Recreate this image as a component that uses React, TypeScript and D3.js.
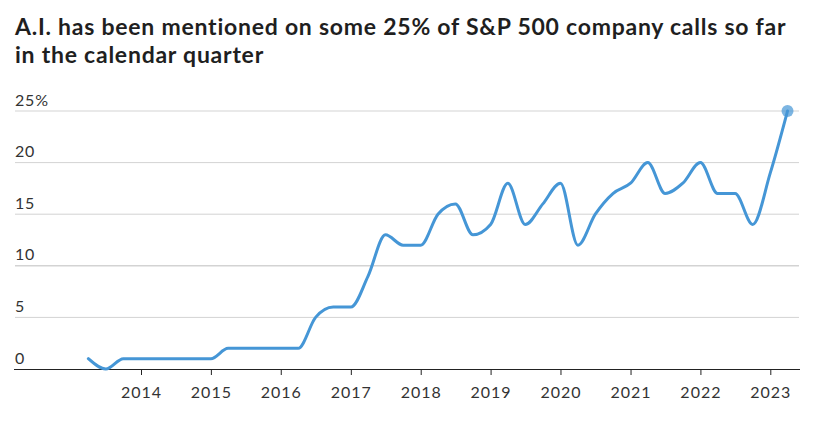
import * as d3 from 'd3';
import { useEffect, useRef } from 'react';

// quarterly share of S&P 500 calls mentioning A.I., 2013 Q2 .. 2023 Q2
const startYear = 2013;
const startQuarter = 2;
const shares = [
  1, 0, 1,
  1, 1, 1, 1,
  1, 2, 2, 2,
  2, 2, 5, 6,
  6, 9, 13, 12,
  12, 15, 16, 13,
  14, 18, 14, 16,
  18, 12, 15, 17,
  18, 20, 17, 18,
  20, 17, 17, 14,
  19, 25,
];
const yTicks = [0, 5, 10, 15, 20, 25];
const xTickYears = [2014, 2015, 2016, 2017, 2018, 2019, 2020, 2021, 2022, 2023];
const titleLines = [
  'A.I. has been mentioned on some 25% of S&P 500 company calls so far',
  'in the calendar quarter',
];

const W = 814;
const H = 422;

export default function App() {
  const svgRef = useRef<SVGSVGElement | null>(null);

  useEffect(() => {
    if (!svgRef.current) return;
    const svg = d3.select(svgRef.current);
    svg.selectAll('*').remove();

    const data = shares.map((v, i) => {
      const q = startQuarter - 1 + i;
      return { date: new Date(startYear + Math.floor(q / 4), (q % 4) * 3, 1), value: v };
    });

    const left = 15;
    const right = 799;
    const top = 111;
    const bottom = 369;

    const x = d3
      .scaleTime()
      .domain([new Date(2014, 0, 1), new Date(2023, 0, 1)])
      .range([141, 770.3]);
    const y = d3.scaleLinear().domain([0, 25]).range([bottom, top]);

    const font = 'Lato, "Open Sans", sans-serif';

    // title, letter-spaced so the first line spans the same width as the original
    const title = svg
      .append('g')
      .selectAll('text')
      .data(titleLines)
      .enter()
      .append('text')
      .attr('x', 15)
      .attr('y', (d, i) => 35 + i * 28)
      .attr('font-family', font)
      .attr('font-weight', 700)
      .attr('font-size', '23px')
      .attr('fill', '#1f1f1f')
      .text((d) => d);
    const first = title.nodes()[0] as SVGTextElement;
    const w0 = first.getComputedTextLength();
    const spacing = Math.max(0, (771 - w0) / (titleLines[0].length - 1));
    title.attr('letter-spacing', `${spacing}px`);

    // gridlines + y labels
    const grid = svg.append('g');
    grid
      .selectAll('line')
      .data(yTicks.filter((t) => t > 0))
      .enter()
      .append('line')
      .attr('x1', left)
      .attr('x2', right)
      .attr('y1', (d) => y(d))
      .attr('y2', (d) => y(d))
      .attr('stroke', '#d3d3d3')
      .attr('stroke-width', (d) => (d === 10 ? 1.5 : 1));
    grid
      .selectAll('text')
      .data(yTicks)
      .enter()
      .append('text')
      .attr('x', left)
      .attr('y', (d) => y(d) - 5.5)
      .attr('font-family', font)
      .attr('font-size', '16px')
      .attr('letter-spacing', '0.8px')
      .attr('fill', '#333')
      .text((d) => (d === 25 ? '25%' : String(d)));

    // x axis
    const xAxis = d3
      .axisBottom(x)
      .tickValues(xTickYears.map((yr) => new Date(yr, 0, 1)))
      .tickFormat((d) => String((d as Date).getFullYear()))
      .tickSizeInner(6)
      .tickSizeOuter(0);
    const ax = svg.append('g').attr('transform', `translate(0,${bottom})`).call(xAxis);
    ax.select('.domain').attr('d', `M${left - 1},0.5H${right + 1}`).attr('stroke', '#222');
    ax.selectAll('.tick line').attr('stroke', '#222');
    ax.selectAll('.tick text')
      .attr('y', 29)
      .attr('dy', null)
      .attr('font-family', font)
      .attr('font-size', '16px')
      .attr('letter-spacing', '1px')
      .attr('fill', '#333');

    // line
    const line = d3
      .line<{ date: Date; value: number }>()
      .x((d) => x(d.date))
      .y((d) => y(d.value))
      .curve(d3.curveMonotoneX);
    svg
      .append('path')
      .datum(data)
      .attr('d', line)
      .attr('fill', 'none')
      .attr('stroke', '#4596d6')
      .attr('stroke-width', 3)
      .attr('stroke-linejoin', 'round')
      .attr('stroke-linecap', 'round');

    const last = data[data.length - 1];
    svg
      .append('circle')
      .attr('cx', x(last.date))
      .attr('cy', y(last.value))
      .attr('r', 6)
      .attr('fill', '#4596d6')
      .attr('fill-opacity', 0.7);
  }, []);

  return (
    <svg
      ref={svgRef}
      width={W}
      height={H}
      style={{ position: 'absolute', left: 0, top: 0, background: '#fff' }}
    ></svg>
  );
}
